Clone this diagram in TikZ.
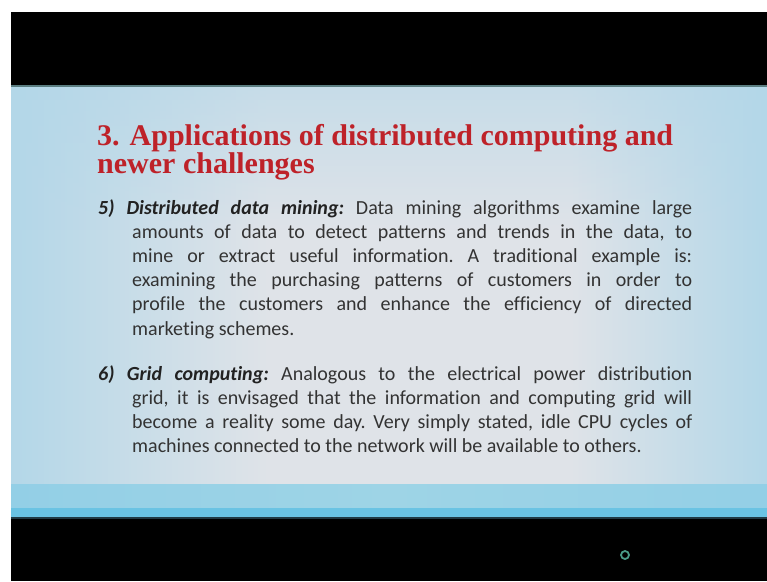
\documentclass[tikz,border=0pt]{standalone}
\usepackage{fontspec}
\setmainfont[Ligatures=NoCommon]{Carlito}
\newfontfamily\titlefont{Liberation Serif}
\usetikzlibrary{fadings}
\definecolor{bge}{HTML}{B3D7E8}
\definecolor{bgc}{HTML}{DFE3E8}
\definecolor{bandc}{HTML}{93CFE6}
\definecolor{bandm}{HTML}{9ED4E6}
\definecolor{stripc}{HTML}{6AC3E3}
\definecolor{edgeline}{HTML}{5A7D80}
\definecolor{titlered}{HTML}{BE2229}
\definecolor{bodygray}{HTML}{333333}
\definecolor{lblgray}{HTML}{222222}
\definecolor{ringc}{HTML}{4A9A88}
\pgfdeclarehorizontalshading{slideh}{100bp}{color(0bp)=(bge); color(25bp)=(bge); color(42bp)=(bgc); color(62bp)=(bgc); color(75bp)=(bge); color(100bp)=(bge)}
\pgfdeclarehorizontalshading{bandh}{100bp}{color(0bp)=(bandc); color(25bp)=(bandc); color(50bp)=(bandm); color(75bp)=(bandc); color(100bp)=(bandc)}
\tikzfading[name=fadetop, top color=transparent!45, bottom color=transparent!100]
\tikzset{
  titlestyle/.style={inner sep=0pt, anchor=base west, text=titlered, font=\titlefont\bfseries\fontsize{30}{30}\selectfont},
  bodytext/.style={inner sep=0pt, anchor=base west, text=bodygray, font=\fontsize{20}{24}\selectfont\frenchspacing}
}
\newcommand{\lbl}[1]{\textcolor{lblgray}{\textbf{\textit{#1}}}}
\begin{document}
\begin{tikzpicture}[x=1pt,y=-1pt]
\useasboundingbox (0,0) rectangle (767,581);
\fill[white] (0,0) rectangle (767,581);
% top black band
\fill[black] (11,12) rectangle (767,85);
\fill[edgeline] (11,85) rectangle (767,87);
% slide background
\shade[shading=slideh] (11,87) rectangle (767,484);
\fill[bge, path fading=fadetop] (11,87) rectangle (767,230);
% bottom band
\shade[shading=bandh] (11,484) rectangle (767,508);
\fill[stripc] (11,508) rectangle (767,517);
\fill[black!70!stripc] (11,517) rectangle (767,519);
\fill[black] (11,519) rectangle (767,581);
% title
\node[titlestyle] (t1) at (97,145) {3. Applications of distributed computing and};
\node[titlestyle] (t2) at (97,173) {newer challenges};
% item 5
\node[bodytext] (i5) at (98,214) {\vtop{\baselineskip=24.2pt
  \hbox to 594pt{\lbl{5) Distributed data mining:} Data mining algorithms examine large}
  \moveright34pt\hbox to 560pt{amounts of data to detect patterns and trends in the data, to}
  \moveright34pt\hbox to 560pt{mine or extract useful information. A traditional example is:}
  \moveright34pt\hbox to 560pt{examining the purchasing patterns of customers in order to}
  \moveright34pt\hbox to 560pt{profile the customers and enhance the efficiency of directed}
  \moveright34pt\hbox{marketing schemes.}}};
% item 6
\node[bodytext] (i6) at (98,380) {\vtop{\baselineskip=24.2pt
  \hbox to 594pt{\lbl{6) Grid computing:} Analogous to the electrical power distribution}
  \moveright34pt\hbox to 560pt{grid, it is envisaged that the information and computing grid will}
  \moveright34pt\hbox to 560pt{become a reality some day. Very simply stated, idle CPU cycles of}
  \moveright34pt\hbox{machines connected to the network will be available to others.}}};
% small ring
\node[circle, draw=ringc, line width=1.8pt, minimum size=8pt, inner sep=0pt, fill=black] (dot) at (625,555) {};
\end{tikzpicture}
\end{document}
